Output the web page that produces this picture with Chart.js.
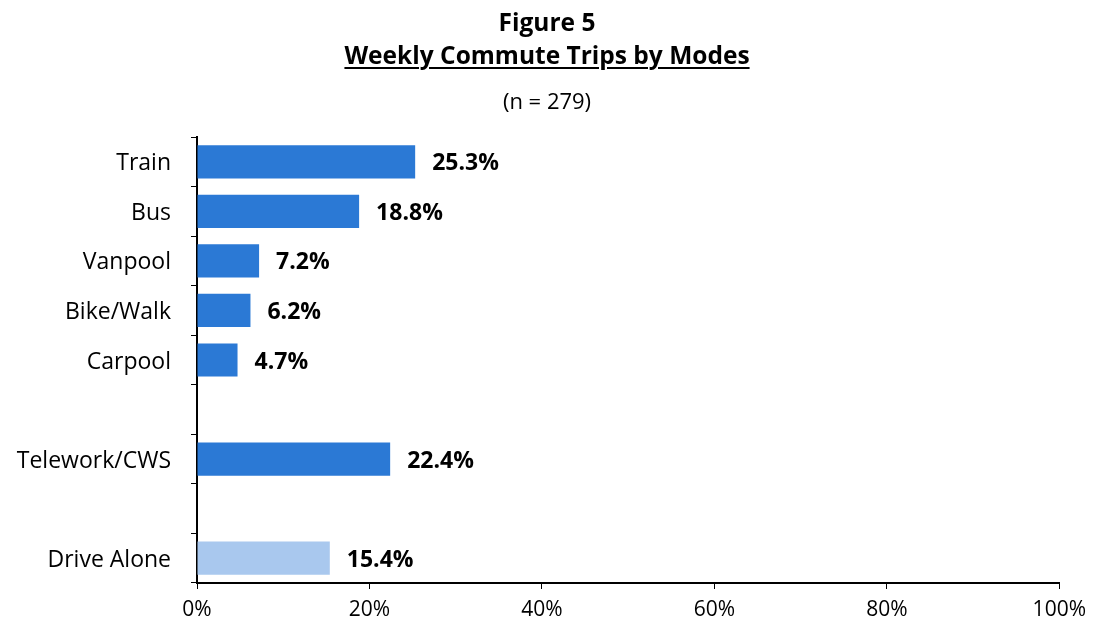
<!DOCTYPE html>
<html>
<head>
<meta charset="utf-8">
<script src="https://cdn.jsdelivr.net/npm/chart.js@4"></script>
<style>
  html, body { margin: 0; padding: 0; background: #fff; }
  #wrap { position: relative; width: 1094px; height: 626px; }
  #titles { position: absolute; left: 0; top: 0; width: 1094px; text-align: center;
            font-family: "Open Sans", sans-serif; color: #000; }
  .t1 { position: absolute; left: 0; width: 100%; top: 5px; font-size: 24.5px; line-height: 34px; font-weight: bold; }
  .t2 { position: absolute; left: 0; width: 100%; top: 38px; font-size: 24.5px; line-height: 34px; font-weight: bold; }
  .t2 span { text-decoration: underline; text-underline-offset: 3px; text-decoration-thickness: 2px; }
  .t3 { position: absolute; left: 0; width: 100%; top: 87px; font-size: 22px; line-height: 26px; }
</style>
</head>
<body>
<div id="wrap">
  <canvas id="myChart" width="1094" height="626"></canvas>
  <div id="titles">
    <div class="t1">Figure 5</div>
    <div class="t2"><span>Weekly Commute Trips by Modes</span></div>
    <div class="t3">(n = 279)</div>
  </div>
</div>
<script>
// data
var modes = ['Train', 'Bus', 'Vanpool', 'Bike/Walk', 'Carpool', '', 'Telework/CWS', '', 'Drive Alone'];
var shares = [25.3, 18.8, 7.2, 6.2, 4.7, null, 22.4, null, 15.4];
var barColors = ['#2B79D5', '#2B79D5', '#2B79D5', '#2B79D5', '#2B79D5', '#2B79D5', '#2B79D5', '#2B79D5', '#A9C8EE'];
var xTicks = [0, 20, 40, 60, 80, 100];

var fontFamily = '"Open Sans", sans-serif';

// value labels at the end of each bar
var valueLabels = {
    id: 'valueLabels',
    afterDatasetsDraw: function (chart) {
        var ctx = chart.ctx;
        var meta = chart.getDatasetMeta(0);
        ctx.save();
        ctx.font = 'bold 23px ' + fontFamily;
        ctx.fillStyle = '#000';
        ctx.textAlign = 'left';
        ctx.textBaseline = 'middle';
        meta.data.forEach(function (bar, i) {
            if (shares[i] == null) return;
            ctx.fillText(shares[i].toFixed(1) + '%', bar.x + 17, bar.y + 2);
        });
        ctx.restore();
    }
};

var ctx = document.getElementById('myChart').getContext('2d');
var myChart = new Chart(ctx, {
    type: 'bar',
    data: {
        labels: modes,
        datasets: [{
            data: shares,
            backgroundColor: barColors,
            borderWidth: 0,
            barPercentage: 0.67,
            categoryPercentage: 1
        }]
    },
    options: {
        indexAxis: 'y',
        responsive: false,
        animation: false,
        layout: { padding: { top: 137, right: 29, left: 0, bottom: 0 } },
        plugins: {
            legend: { display: false },
            tooltip: { enabled: false }
        },
        scales: {
            x: {
                min: 0,
                max: 100,
                afterBuildTicks: function (scale) {
                    scale.ticks = xTicks.map(function (v) { return { value: v }; });
                },
                afterFit: function (scale) { scale.height = 43; },
                grid: { drawOnChartArea: false, drawTicks: true, tickLength: 6, color: '#000', lineWidth: 1 },
                border: { display: true, color: '#000', width: 2 },
                ticks: {
                    color: '#000',
                    font: { family: fontFamily, size: 21 },
                    padding: 8,
                    maxRotation: 0,
                    callback: function (v) { return v + '%'; }
                }
            },
            y: {
                afterFit: function (scale) { scale.width = 197; },
                grid: { drawOnChartArea: false, drawTicks: true, tickLength: 6, color: '#000', lineWidth: 1, offset: true },
                border: { display: true, color: '#000', width: 2 },
                ticks: {
                    color: '#000',
                    font: { family: fontFamily, size: 23 },
                    padding: 20,
                    labelOffset: 2,
                    autoSkip: false
                }
            }
        }
    },
    plugins: [valueLabels]
});
</script>
</body>
</html>
